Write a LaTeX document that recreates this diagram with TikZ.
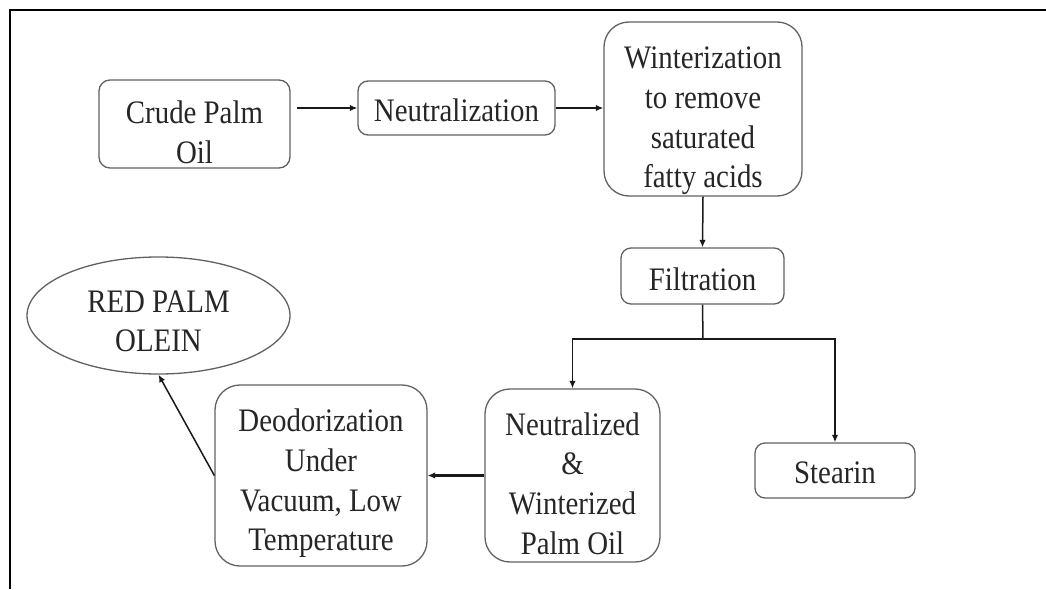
\documentclass[tikz,border=0pt]{standalone}
\usepackage{fontspec}
\setmainfont{Liberation Serif}[FakeStretch=0.88]
\usetikzlibrary{shapes.geometric,arrows.meta}
\begin{document}
\begin{tikzpicture}[x=1pt,y=-1pt,
  box/.style={draw=black!62,line width=1.3pt,rounded corners=#1,inner sep=0pt},
  box/.default=11pt,
  txt/.style={align=center,inner sep=0pt,text=black!85,
    font=\fontsize{32.8}{39.6}\selectfont},
  arr/.style={draw=black!90,line width=1.5pt,-{Latex[length=7.5pt,width=6.5pt]}},
  frameline/.style={draw=black,line width=2pt}]
\useasboundingbox (0,0) rectangle (1046,589);
\draw[frameline] (10,589) -- (10,10) -- (1046,10);
\node[box, minimum width=191pt, minimum height=88pt] (crude) at (194.5,124) {};
\node[txt] (crudetxt) at ([yshift=-8pt]crude.center) {Crude Palm\\Oil};
\node[box=10pt, minimum width=197pt, minimum height=54pt] (neut) at (456.5,108) {};
\node[txt] (neuttxt) at ([yshift=-2pt]neut.center) {Neutralization};
\node[box=25pt, minimum width=198pt, minimum height=174pt] (wint) at (703,109) {};
\node[txt] (winttxt) at ([yshift=-12pt]wint.center) {Winterization\\to remove\\saturated\\fatty acids};
\node[box=10pt, minimum width=163pt, minimum height=56pt] (filt) at (702.5,276) {};
\node[txt] (filttxt) at ([yshift=-3pt]filt.center) {Filtration};
\node[box=25pt, minimum width=175pt, minimum height=173pt] (neutw) at (572.5,475.5) {};
\node[txt] (neutwtxt) at ([yshift=-8pt]neutw.center) {Neutralized\\\&\\Winterized\\Palm Oil};
\node[box=10pt, minimum width=160pt, minimum height=55pt] (stearin) at (835,470.5) {};
\node[txt] (stearintxt) at ([yshift=-2pt]stearin.center) {Stearin};
\node[box=25pt, minimum width=212pt, minimum height=181pt] (deod) at (321,475.5) {};
\node[txt] (deodtxt) at ([yshift=-8pt]deod.center) {Deodorization\\Under\\Vacuum, Low\\Temperature};
\node[draw=black!62,line width=1.3pt,ellipse,inner sep=0pt,minimum width=263pt,minimum height=117pt] (red) at (158.5,315.5) {};
\node[txt] (redtxt) at ([yshift=-6pt]red.center) {RED PALM\\OLEIN};
\coordinate (split) at (703,339);
\draw[arr,shorten <=6pt] (crude.east |- neut.west) -- (neut.west);
\draw[arr] (neut.east) -- (neut.east -| wint.west);
\draw[arr] (wint.south) -- (filt.north);
\draw[draw=black!90,line width=1.5pt] (filt.south) -- (split);
\draw[arr] (split) -| (neutw.north);
\draw[arr] (split) -| (stearin.north);
\draw[arr,line width=2.5pt] (neutw.west) -- (deod.east);
\draw[arr] (deod.west) -- (red.south);
\end{tikzpicture}
\end{document}
